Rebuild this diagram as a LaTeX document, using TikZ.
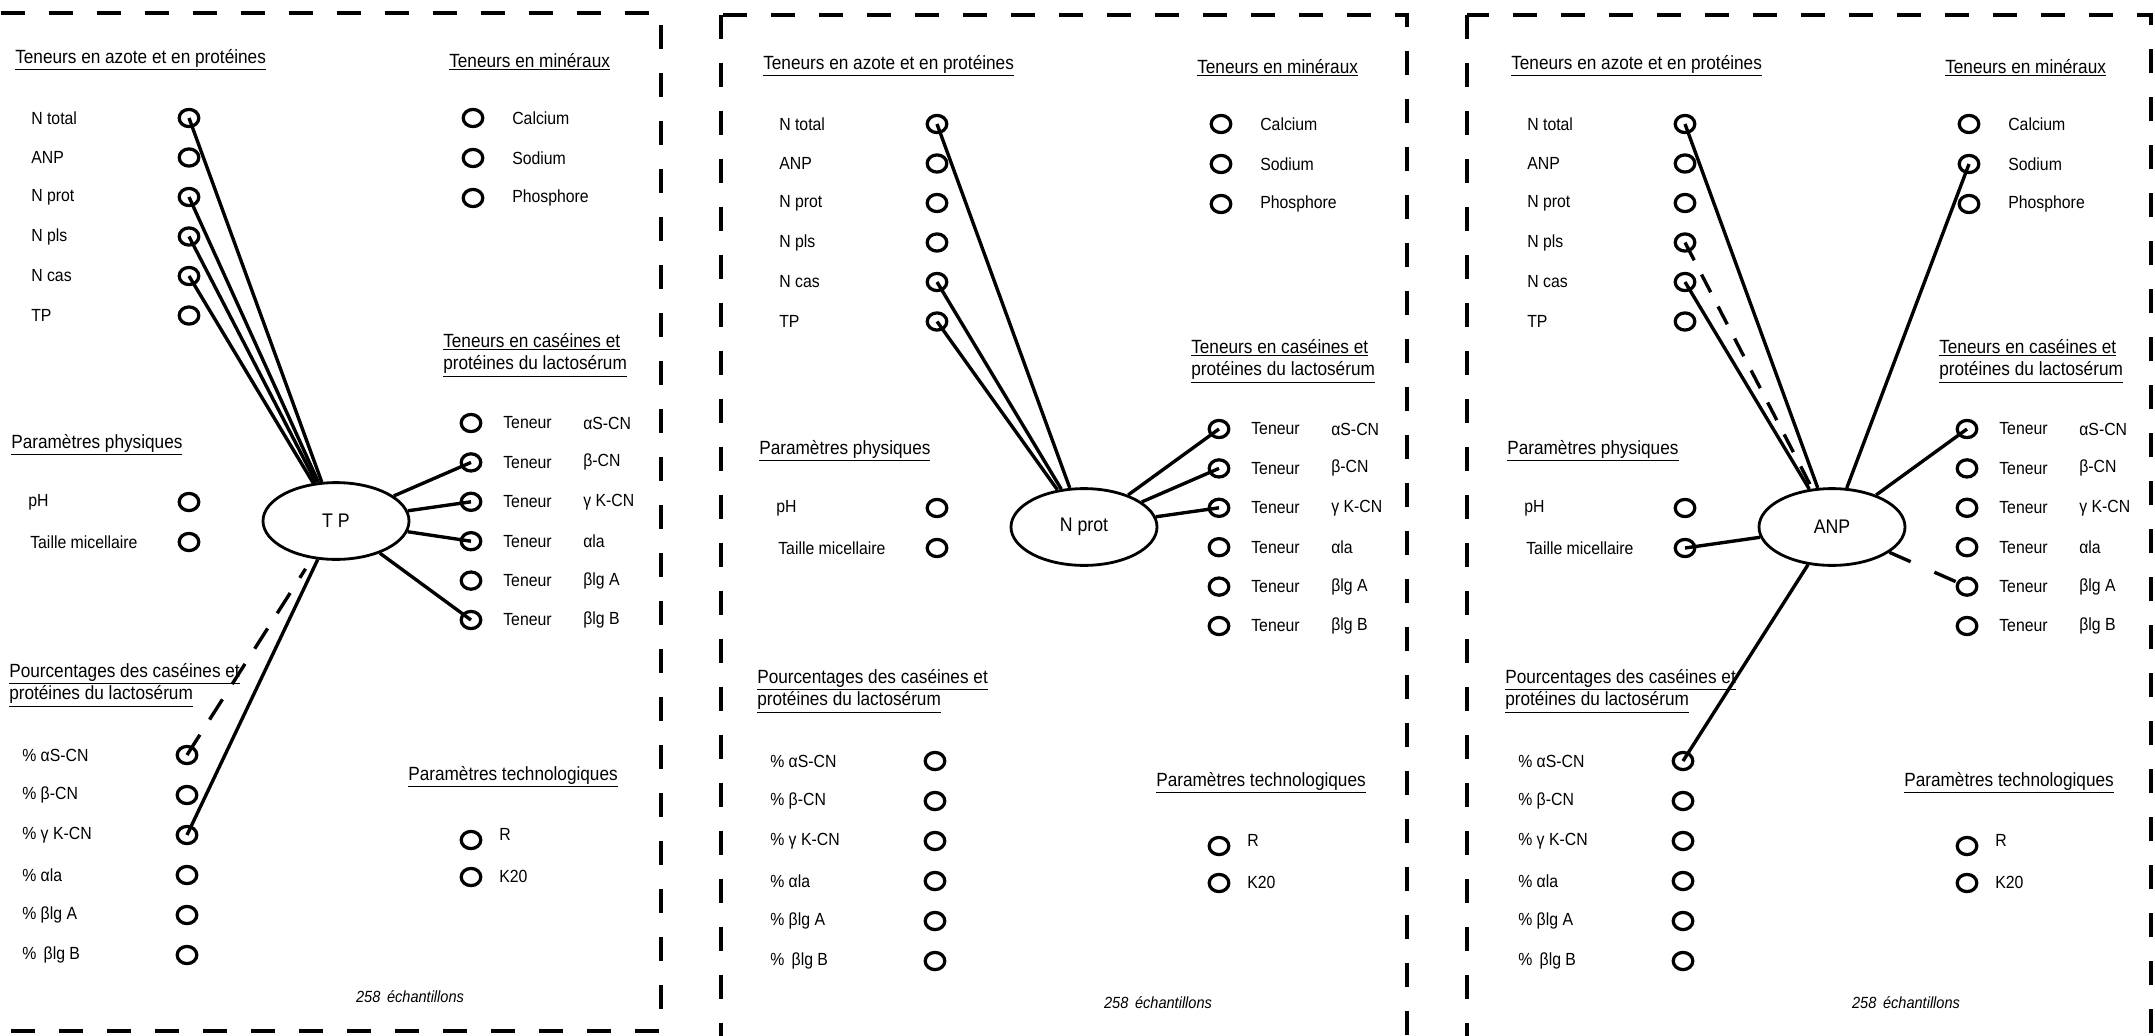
\documentclass[tikz,border=0pt]{standalone}
\usepackage{fontspec}
\setmainfont{Liberation Sans}[FakeStretch=0.9]
\usepackage{tikz}
\usetikzlibrary{shapes.geometric}
\tikzset{
    dot/.style={ellipse, draw=black, line width=2.3pt, minimum width=4.9mm, minimum height=4.3mm, inner sep=0pt},
    hub/.style={ellipse, draw=black, line width=2pt, minimum width=36.5mm, minimum height=19.2mm, inner sep=0pt, font=\fontsize{14}{16}\selectfont},
    lab/.style={anchor=west, inner sep=0pt, font=\fontsize{12.5}{15}\selectfont},
    head/.style={anchor=west, inner sep=0pt, align=left, font=\fontsize{13.6}{16}\selectfont},
    note/.style={inner sep=0pt, font=\fontsize{11.5}{13}\selectfont\itshape},
    link/.style={line width=2.4pt},
    dlink/.style={link, dash pattern=on 6mm off 4.5mm},
    frame/.style={line width=2.8pt, dash pattern=on 6mm off 6mm}
}

% one panel: #1 name prefix, #2 shift, #3 text of the central ellipse
\newcommand{\drawpanel}[3]{%
  \begin{scope}[shift={#2}]
    % headings
    \node[head] (#1-hazote) at (15,60) {\underline{Teneurs en azote et en protéines}};
    \node[head] (#1-hmin) at (449,62) {\underline{Teneurs en minéraux}};
    \node[head] (#1-hcas) at (443,355) {\underline{Teneurs en caséines et}\\\underline{protéines du lactosérum}};
    \node[head] (#1-hphys) at (11,445) {\underline{Paramètres physiques}};
    \node[head] (#1-hpct) at (9,685) {\underline{Pourcentages des caséines et}\\\underline{protéines du lactosérum}};
    \node[head] (#1-htech) at (408,777) {\underline{Paramètres technologiques}};
    \node[note] (#1-note) at (410,997) {258 \,échantillons};
    % azote et protéines
    \foreach \nm/\txt [count=\i from 0] in {ntot/N total, anp/ANP, nprot/N prot, npls/N pls, ncas/N cas, tp/TP} {
      \node[lab] at (31,118+39.5*\i) {\txt};
      \node[dot] (#1-\nm) at (189,118+39.5*\i) {};
    }
    % minéraux
    \foreach \nm/\txt [count=\i from 0] in {ca/Calcium, na/Sodium, pho/Phosphore} {
      \node[dot] (#1-\nm) at (473,118+40*\i) {};
      \node[lab] at (512,118+40*\i) {\txt};
    }
    % teneurs en caséines
    \foreach \nm/\txt [count=\i from 0] in {tas/αS-CN, tb/β-CN, tk/γ K-CN, tla/αla, tbA/βlg A, tbB/βlg B} {
      \node[dot] (#1-\nm) at (471,423+39.4*\i) {};
      \node[lab] at (503,423+39.4*\i) {Teneur};
      \node[lab] at (583,423+39.4*\i) {\txt};
    }
    % paramètres physiques
    \node[lab] at (28,502) {pH};
    \node[dot] (#1-mph) at (189,502) {};
    \node[lab] at (30,542) {Taille micellaire};
    \node[dot] (#1-tm) at (189,542) {};
    % pourcentages
    \foreach \nm/\txt [count=\i from 0] in {pas/\% αS-CN, pb/\% β-CN, pk/\% γ K-CN, pla/\% αla, pbA/\% βlg A, pbB/\% \,βlg B} {
      \node[lab] at (22,755+40*\i) {\txt};
      \node[dot] (#1-\nm) at (187,755+40*\i) {};
    }
    % paramètres technologiques
    \node[dot] (#1-r) at (471,840) {};
    \node[lab] at (499,834) {R};
    \node[dot] (#1-k) at (471,877) {};
    \node[lab] at (499,876) {K20};
    % centre
    \node[hub] (#1-hub) at (336,521) {#3};
  \end{scope}}

\begin{document}
\begin{tikzpicture}[x=0.25mm, y=-0.25mm]
    \useasboundingbox (0,0) rectangle (2155,1035);
    \clip (0,0) rectangle (2155,1035);

    % frames
    \draw[frame] (-27,13) rectangle (661,1031);
    \draw[frame] (721,15) rectangle (1407,1070);
    \draw[frame] (1467,15) rectangle (2151,1070);

    \drawpanel{a}{(0,0)}{T P}
    \drawpanel{b}{(748,6)}{N prot}
    \drawpanel{c}{(1496,6)}{ANP}

    % TP
    \draw[link] (a-ntot.center) -- (a-hub);
    \draw[link] (a-nprot.center) -- (a-hub);
    \draw[link] (a-npls.center) -- (a-hub);
    \draw[link] (a-ncas.center) -- (a-hub);
    \draw[link] (a-hub) -- (a-tb.center);
    \draw[link] (a-hub) -- (a-tk.center);
    \draw[link] (a-hub) -- (a-tla.center);
    \draw[link] (a-hub) -- (a-tbB.center);
    \draw[link] (a-hub) -- (a-pk.center);
    \draw[dlink, shorten >=3mm] (a-pas.center) -- (a-hub);

    % N prot
    \draw[link] (b-ntot.center) -- (b-hub);
    \draw[link] (b-ncas.center) -- (b-hub);
    \draw[link] (b-tp.center) -- (b-hub);
    \draw[link] (b-hub) -- (b-tas.center);
    \draw[link] (b-hub) -- (b-tb.center);
    \draw[link] (b-hub) -- (b-tk.center);

    % ANP
    \draw[link] (c-ntot.center) -- (c-hub);
    \draw[link] (c-ncas.center) -- (c-hub);
    \draw[dlink, dash pattern=on 5mm off 4mm] (c-npls.center) -- (c-hub);
    \draw[link] (c-na.center) -- (c-hub);
    \draw[link] (c-hub) -- (c-tas.center);
    \draw[dlink, dash pattern=on 5.8mm off 6.5mm] (c-hub) -- (c-tbA.center);
    \draw[link] (c-hub) -- (c-tm.center);
    \draw[link] (c-hub) -- (c-pas.center);

\end{tikzpicture}
\end{document}
